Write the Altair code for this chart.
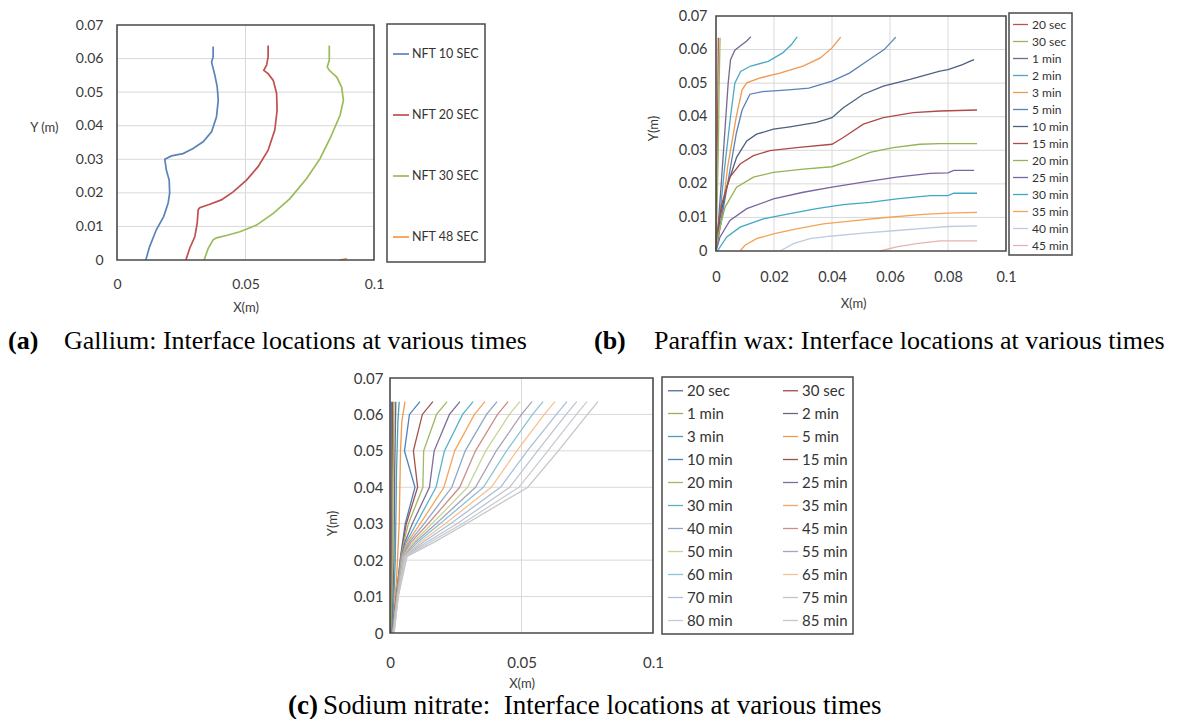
import altair as alt
import pandas as pd

W, H = 1163, 711

# ---------------- Panel (a): Gallium ----------------
a_names = ["NFT 10 SEC", "NFT 20 SEC", "NFT 30 SEC", "NFT 48 SEC"]
a_colors = ["#5A84B8", "#C0504D", "#9BBB59", "#F79646"]
a_x = [
    [0.0112, 0.0127, 0.0153, 0.0182, 0.0199, 0.0205, 0.0203, 0.0192, 0.0186, 0.0212, 0.0257,
     0.0296, 0.0335, 0.0368, 0.0387, 0.0394, 0.0390, 0.0381, 0.0371, 0.0368, 0.0374, 0.0374],
    [0.0268, 0.0283, 0.0303, 0.0312, 0.0316, 0.0322, 0.0361, 0.0406, 0.0452, 0.0504, 0.0549,
     0.0588, 0.0614, 0.0623, 0.0621, 0.0608, 0.0588, 0.0571, 0.0582, 0.0588, 0.0588],
    [0.0339, 0.0355, 0.0374, 0.0387, 0.0426, 0.0478, 0.0543, 0.0608, 0.0673, 0.0738, 0.0790,
     0.0829, 0.0868, 0.0881, 0.0874, 0.0855, 0.0826, 0.0818, 0.0826, 0.0826],
    [0.0868, 0.0895],
]
a_y = [
    [0.0, 0.004, 0.009, 0.013, 0.017, 0.020, 0.0238, 0.0268, 0.030, 0.031, 0.0317,
     0.0332, 0.0352, 0.0382, 0.0426, 0.0476, 0.0515, 0.055, 0.058, 0.059, 0.0605, 0.0636],
    [0.0, 0.0035, 0.007, 0.011, 0.015, 0.0156, 0.0166, 0.0179, 0.0203, 0.0238, 0.0278,
     0.0327, 0.0387, 0.0446, 0.0496, 0.0535, 0.0555, 0.0565, 0.058, 0.0605, 0.0639],
    [0.0, 0.0035, 0.006, 0.0066, 0.0073, 0.0084, 0.0104, 0.0139, 0.0183, 0.0243, 0.0302,
     0.0362, 0.0431, 0.0476, 0.0515, 0.0545, 0.0565, 0.0575, 0.0595, 0.0639],
    [0.0, 0.0004],
]

# ---------------- Panel (b): Paraffin wax ----------------
b_names = ["20 sec", "30 sec", "1 min", "2 min", "3 min", "5 min", "10 min", "15 min",
           "20 min", "25 min", "30 min", "35 min", "40 min", "45 min"]
b_colors = ["#B85450", "#9BB55F", "#76688F", "#4BA8C2", "#F0984F", "#5882B8", "#4D6180",
            "#B04A48", "#94B352", "#7B63A0", "#3FA9C5", "#F4A352", "#BFCBE0", "#E4B4B4"]
b_widths = [1.3, 1.3, 1.3, 1.3, 1.3, 1.3, 1.3, 1.8, 1.8, 1.5, 2.2, 1.6, 1.3, 1.3]
b_x = [
    [0.0, 0.0002, 0.0004, 0.0006, 0.0008],
    [0.0, 0.0004, 0.0008, 0.0011, 0.0014],
    [0.0, 0.0008, 0.0018, 0.003, 0.0042, 0.005, 0.0065, 0.009, 0.0105, 0.012],
    [0.0, 0.001, 0.003, 0.005, 0.0065, 0.0085, 0.012, 0.018, 0.023, 0.026, 0.028],
    [0.0, 0.002, 0.004, 0.007, 0.009, 0.0106, 0.015, 0.022, 0.030, 0.036, 0.040, 0.043],
    [0.0, 0.002, 0.005, 0.007, 0.009, 0.0117, 0.016, 0.025, 0.032, 0.040, 0.046, 0.052, 0.058, 0.062],
    [0.0, 0.0014, 0.0037, 0.0071, 0.0106, 0.014, 0.0198, 0.0255, 0.0347, 0.040, 0.0439, 0.0508,
     0.0577, 0.0669, 0.0772, 0.080, 0.085, 0.0875, 0.089],
    [0.0, 0.0005, 0.002, 0.0048, 0.0083, 0.0129, 0.0186, 0.0278, 0.040, 0.0439, 0.0508, 0.0577,
     0.068, 0.0772, 0.090],
    [0.0, 0.0008, 0.0031, 0.0071, 0.0129, 0.0198, 0.0301, 0.040, 0.0462, 0.0531, 0.0611, 0.0703,
     0.0772, 0.090],
    [0.0, 0.0014, 0.0048, 0.0106, 0.0198, 0.0301, 0.040, 0.0508, 0.0623, 0.0738, 0.080, 0.082, 0.089],
    [0.0005, 0.0037, 0.0083, 0.0163, 0.0255, 0.0347, 0.0439, 0.0531, 0.0623, 0.0738, 0.080, 0.082, 0.090],
    [0.0083, 0.010, 0.014, 0.0198, 0.0278, 0.037, 0.0462, 0.0577, 0.0715, 0.080, 0.090],
    [0.0221, 0.0267, 0.0324, 0.0393, 0.0508, 0.0623, 0.0738, 0.080, 0.090],
    [0.0566, 0.0623, 0.0692, 0.0772, 0.090],
]
b_y = [
    [0.0, 0.015, 0.03, 0.045, 0.0635],
    [0.0, 0.015, 0.03, 0.05, 0.0635],
    [0.0, 0.008, 0.02, 0.035, 0.05, 0.057, 0.0598, 0.0615, 0.0625, 0.0638],
    [0.0, 0.008, 0.025, 0.04, 0.05, 0.0535, 0.0551, 0.0565, 0.059, 0.0615, 0.0638],
    [0.0, 0.01, 0.025, 0.04, 0.048, 0.0501, 0.0515, 0.053, 0.0551, 0.0575, 0.0605, 0.0637],
    [0.0, 0.01, 0.025, 0.035, 0.042, 0.0467, 0.0475, 0.048, 0.0485, 0.0506, 0.053, 0.0565, 0.060, 0.0637],
    [0.0, 0.01, 0.019, 0.0279, 0.0328, 0.0348, 0.0363, 0.037, 0.0383, 0.0397, 0.0427, 0.0467,
     0.0491, 0.0511, 0.0536, 0.054, 0.0555, 0.0565, 0.057],
    [0.0, 0.0061, 0.014, 0.022, 0.0259, 0.0284, 0.0299, 0.0308, 0.0318, 0.0338, 0.0378, 0.0397,
     0.0412, 0.0417, 0.042],
    [0.0, 0.005, 0.013, 0.019, 0.022, 0.0234, 0.0244, 0.0251, 0.0269, 0.0294, 0.0308, 0.0318,
     0.032, 0.032],
    [0.0, 0.0042, 0.0091, 0.0126, 0.0155, 0.0175, 0.019, 0.0205, 0.022, 0.0231, 0.0233, 0.024, 0.024],
    [0.0, 0.0042, 0.0071, 0.0096, 0.0111, 0.0126, 0.0138, 0.0145, 0.0155, 0.0165, 0.0165, 0.0172, 0.0172],
    [0.0, 0.0017, 0.0037, 0.0051, 0.0066, 0.0081, 0.0089, 0.0099, 0.0109, 0.0113, 0.0115],
    [0.0, 0.0022, 0.0037, 0.0044, 0.0053, 0.0061, 0.0069, 0.0073, 0.0075],
    [0.0, 0.0012, 0.0022, 0.003, 0.003],
]

# ---------------- Panel (c): Sodium nitrate ----------------
c_names = ["20 sec", "30 sec", "1 min", "2 min", "3 min", "5 min", "10 min", "15 min",
           "20 min", "25 min", "30 min", "35 min", "40 min", "45 min", "50 min", "55 min",
           "60 min", "65 min", "70 min", "75 min", "80 min", "85 min"]
c_colors = ["#4F6E9A", "#9E4B47", "#9AAE5A", "#6E6581", "#4AA0B8", "#F0994E",
            "#4F81BD", "#A0524E", "#A3B765", "#7E6E98", "#59B2C9", "#F6A45E",
            "#8FA6C6", "#C98F8C", "#C8D59A", "#A9A3B8", "#8CC3D6", "#F8C191",
            "#A9C0DA", "#BFC4CF", "#C7CBD3", "#C6C6C6"]
c_lvl = [0.0635, 0.06, 0.05, 0.04, 0.03, 0.025, 0.021, 0.01, 0.0]
c_x = [
    [0.0005, 0.0004, 0.0003],
    [0.001, 0.0007, 0.0005],
    [0.0015, 0.001, 0.0006],
    [0.0022, 0.0018, 0.0015, 0.0008],
    [0.0035, 0.003, 0.0025, 0.002, 0.001],
    [0.0057, 0.0045, 0.004, 0.0035, 0.0025, 0.001],
    [0.0114, 0.0074, 0.0055, 0.0095, 0.0058, 0.0048, 0.0040, 0.0024, 0.0009],
    [0.0163, 0.0123, 0.0089, 0.0105, 0.0062, 0.0050, 0.0041, 0.0024, 0.0009],
    [0.0217, 0.0177, 0.0128, 0.0125, 0.0070, 0.0053, 0.0042, 0.0025, 0.0010],
    [0.0266, 0.0226, 0.0168, 0.0150, 0.0085, 0.0057, 0.0043, 0.0025, 0.0010],
    [0.0316, 0.0276, 0.0207, 0.0175, 0.0100, 0.0062, 0.0044, 0.0026, 0.0010],
    [0.0361, 0.0321, 0.0246, 0.0205, 0.0115, 0.0068, 0.0045, 0.0026, 0.0011],
    [0.0407, 0.0367, 0.0286, 0.0235, 0.0130, 0.0074, 0.0046, 0.0027, 0.0011],
    [0.0449, 0.0409, 0.0325, 0.0265, 0.0145, 0.0081, 0.0047, 0.0027, 0.0012],
    [0.0494, 0.0454, 0.0364, 0.0295, 0.0160, 0.0089, 0.0049, 0.0028, 0.0012],
    [0.0540, 0.0500, 0.0404, 0.0325, 0.0175, 0.0097, 0.0051, 0.0028, 0.0013],
    [0.0582, 0.0542, 0.0443, 0.0355, 0.0190, 0.0106, 0.0053, 0.0029, 0.0013],
    [0.0627, 0.0587, 0.0482, 0.0385, 0.0210, 0.0116, 0.0055, 0.0029, 0.0014],
    [0.0673, 0.0633, 0.0522, 0.0420, 0.0230, 0.0127, 0.0057, 0.0030, 0.0014],
    [0.0710, 0.0670, 0.0561, 0.0455, 0.0255, 0.0140, 0.0059, 0.0030, 0.0015],
    [0.0749, 0.0709, 0.0600, 0.0490, 0.0275, 0.0154, 0.0062, 0.0031, 0.0015],
    [0.0791, 0.0751, 0.0640, 0.0524, 0.0290, 0.0170, 0.0065, 0.0031, 0.0016],
]
c_y = [
    [0.0635, 0.03, 0.0],
    [0.0635, 0.03, 0.0],
    [0.0635, 0.03, 0.0],
    [0.0635, 0.045, 0.02, 0.0],
    [0.0635, 0.058, 0.045, 0.02, 0.0],
    [0.0635, 0.058, 0.05, 0.03, 0.015, 0.0],
] + [c_lvl] * 16

captions = {
    "a": ["(a)", "Gallium: Interface locations at various times"],
    "b": ["(b)", "Paraffin wax: Interface locations at various times"],
    "c": ["(c)", "Sodium nitrate:\u00a0 Interface locations at various times"],
}

FONT = "Lato"
TXT = "#3a3a3a"
FRAME = "#4a4a4a"
GRID = "#D9D9D9"


def long_table(names, xs, ys):
    rows = []
    for n, xl, yl in zip(names, xs, ys):
        for i, (xv, yv) in enumerate(zip(xl, yl)):
            rows.append({"series": n, "x": xv, "y": yv, "ord": i})
    return pd.DataFrame(rows)


def axis_x(offset, values, lpad, title_y, fsize, title_x=None):
    kw = dict(orient="bottom", offset=offset, values=values, format="~g", domain=False,
              ticks=False, tickSize=0, grid=False, labelFlush=False, labelPadding=lpad,
              labelBaseline="middle", labelFont=FONT, labelFontSize=fsize, labelColor=TXT,
              title="X(m)", titleFont=FONT, titleFontSize=13, titleFontWeight="normal",
              titleColor=TXT, titleY=title_y, titleBaseline="middle")
    if title_x is not None:
        kw["titleX"] = title_x
    return alt.Axis(**kw)


def axis_y(offset, lpad, title, tx, ty, angle, fsize):
    return alt.Axis(orient="left", offset=offset,
                    values=[0, 0.01, 0.02, 0.03, 0.04, 0.05, 0.06, 0.07], format="~g",
                    domain=False, ticks=False, tickSize=0, grid=False, labelFlush=False,
                    labelPadding=lpad, labelFont=FONT, labelFontSize=fsize, labelColor=TXT,
                    title=title, titleFont=FONT, titleFontSize=13, titleFontWeight="normal",
                    titleColor=TXT, titleAngle=angle, titleX=tx, titleY=ty,
                    titleBaseline="middle", titleAlign="right" if angle == 0 else "center")


def panel(df, names, colors, widths, xr, yr, ax, ay, legend, xgrid):
    xs = alt.Scale(domain=[0, 0.1], range=xr, nice=False, zero=False)
    ys = alt.Scale(domain=[0, 0.07], range=yr, nice=False, zero=False)
    one = pd.DataFrame({"k": [0]})
    hgrid = alt.Chart(pd.DataFrame({"v": [0.01, 0.02, 0.03, 0.04, 0.05, 0.06]})).mark_rule(
        color=GRID, strokeWidth=1).encode(
        y=alt.Y("v:Q", scale=ys, axis=ay),
        x=alt.XDatum(0, type="quantitative", scale=xs, axis=ax),
        x2=alt.X2Datum(0.1))
    vgrid = alt.Chart(pd.DataFrame({"v": xgrid})).mark_rule(color=GRID, strokeWidth=1).encode(
        x=alt.X("v:Q", scale=xs, axis=ax),
        y=alt.YDatum(0, type="quantitative", scale=ys, axis=ay),
        y2=alt.Y2Datum(0.07))
    lines = alt.Chart(df).mark_line(interpolate="linear").encode(
        x=alt.X("x:Q", scale=xs, axis=ax),
        y=alt.Y("y:Q", scale=ys, axis=ay),
        color=alt.Color("series:N", scale=alt.Scale(domain=names, range=colors), legend=legend),
        strokeWidth=alt.StrokeWidth("series:N", scale=alt.Scale(domain=names, range=widths),
                                    legend=None),
        order=alt.Order("ord:Q"),
    )
    frame = alt.Chart(one).mark_rect(fill="transparent", stroke=FRAME, strokeWidth=1.6).encode(
        x=alt.XDatum(0, type="quantitative", scale=xs, axis=ax),
        x2=alt.X2Datum(0.1),
        y=alt.YDatum(0, type="quantitative", scale=ys, axis=ay),
        y2=alt.Y2Datum(0.07))
    return alt.layer(hgrid, vgrid, lines, frame)


def caption(text, x, y, bold, size):
    return alt.Chart(pd.DataFrame({"t": [text]})).mark_text(
        align="left", baseline="alphabetic", font="Liberation Serif", fontSize=size,
        fontWeight="bold" if bold else "normal", color="black").encode(
        text="t:N", x=alt.value(x), y=alt.value(y))


leg_common = dict(orient="none", labelFont=FONT, labelColor="#333333",
                  symbolStrokeWidth=1.5, strokeColor=FRAME, rowPadding=0)

legA = alt.Legend(legendX=379, legendY=16, padding=5, labelOffset=2,
                  title=" ", titleFontSize=1, titlePadding=15,
                  labelFontSize=12.5, symbolSize=256,
                  symbolType="M-1,-4.625M-1,0H1M1,2", **leg_common)
legB = alt.Legend(legendX=1001, legendY=5, padding=3, labelOffset=3, labelFontSize=12,
                  title=None, symbolSize=225, symbolType="M-2.07,-0.93M-1,0H1M1,0.4",
                  **leg_common)
legC = alt.Legend(legendX=654, legendY=369, padding=5, labelOffset=3, labelFontSize=15,
                  title=None, columns=2, columnPadding=32, direction="horizontal",
                  symbolSize=225, symbolType="M-3,-1.467M-1,0H1M1,0.27", **leg_common)

pA = panel(long_table(a_names, a_x, a_y), a_names, a_colors, [1.7] * 4,
           [109, 366], [252, 17],
           axis_x(252 - H, [0, 0.05, 0.1], 24, 47, 14),
           axis_y(-109, 14, "Y (m)", -59, 119, 0, 14), legA, [0.05])
pB = panel(long_table(b_names, b_x, b_y), b_names, b_colors, b_widths,
           [708, 998], [243, 8],
           axis_x(243 - H, [0, 0.02, 0.04, 0.06, 0.08, 0.1], 26, 52, 14.5, 845),
           axis_y(-708, 9, "Y(m)", -63, 120, 270, 14.5), legB, [0.02, 0.04, 0.06, 0.08])
pC = panel(long_table(c_names, c_x, c_y), c_names, c_colors, [1.3] * 22,
           [382, 645], [625, 370],
           axis_x(625 - H, [0, 0.05, 0.1], 29, 50, 15),
           axis_y(-382, 7, "Y(m)", -58, 515, 270, 15), legC, [0.05])

caps = [
    caption(captions["a"][0], 0, 341, True, 26),
    caption(captions["a"][1], 56, 341, False, 26),
    caption(captions["b"][0], 586, 341, True, 26),
    caption(captions["b"][1], 646, 341, False, 26),
    caption(captions["c"][0], 280, 706, True, 27),
    caption(captions["c"][1], 315, 706, False, 27),
]

chart = alt.layer(pA, pB, pC, *caps).resolve_scale(
    x="independent", y="independent", color="independent", strokeWidth="independent"
).properties(
    width=W, height=H, autosize=alt.AutoSizeParams(type="none"), padding=0
).configure_view(strokeWidth=0).configure_legend(strokeWidth=1.5)

chart.save("out.html", embed_options={"renderer": "svg", "actions": False})
